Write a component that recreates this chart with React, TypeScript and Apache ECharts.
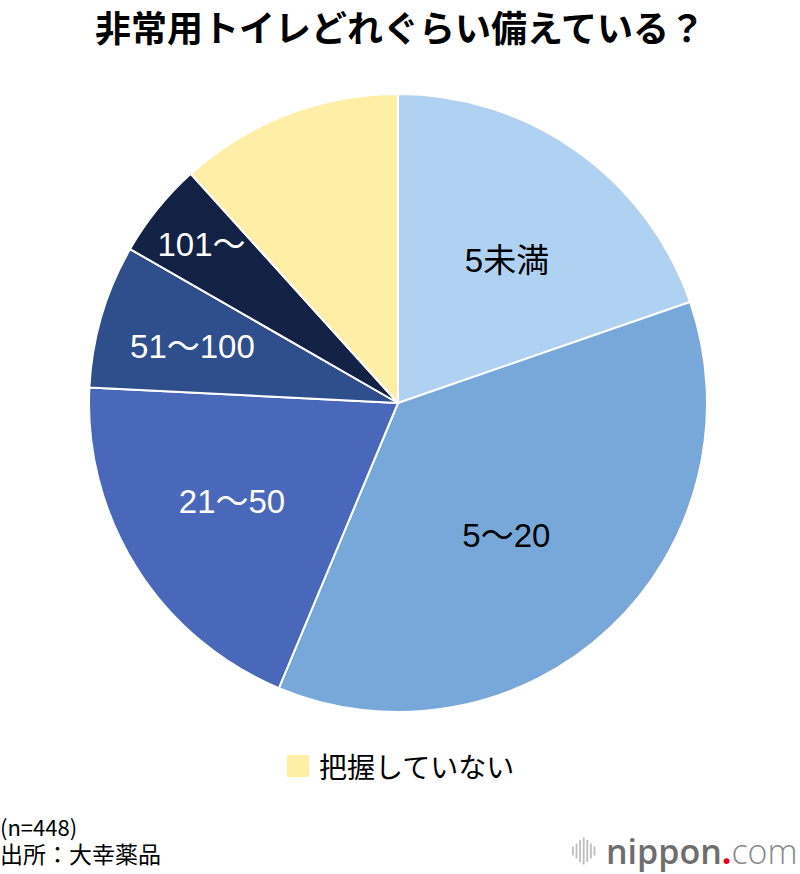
import React, { useEffect, useRef } from "react";
import * as echarts from "echarts";

const categories = ["5未満", "5〜20", "21〜50", "51〜100", "101〜", "把握していない"];
const shares = [19.7, 36.6, 19.5, 7.5, 5.0, 11.7];
const sliceColors = ["#AFD1F2", "#77A8D9", "#4A68BA", "#2F4F8C", "#132144", "#FFEEA5"];
const labelColors = ["#000", "#000", "#fff", "#fff", "#fff", "transparent"];
const labelRadiusFrac = [0.58, 0.555, 0.625, 0.69, 0.817, 0.6];
const labelAngleShiftDeg = [2, 4, 1.5, -1, 0, 0];
const legendItems = ["把握していない"];

const CX = 398;
const CY = 403;
const R = 309;

export default function App() {
  const ref = useRef<HTMLDivElement>(null);
  useEffect(() => {
    if (!ref.current) return;
    const chart = echarts.init(ref.current, null, { renderer: "svg" });
    const total = shares.reduce((a, b) => a + b, 0);
    const mids: number[] = [];
    let cum = 0;
    shares.forEach((v, i) => {
      mids.push(((cum + v / 2) / total) * 2 * Math.PI + (labelAngleShiftDeg[i] * Math.PI) / 180);
      cum += v;
    });
    const bars = [9, 15, 22, 27, 22, 15, 9];
    chart.setOption({
      animation: false,
      backgroundColor: "#fff",
      title: {
        text: "非常用トイレどれぐらい備えている？",
        left: "center",
        top: 3,
        textStyle: {
          fontSize: 36,
          fontWeight: "bold",
          color: "#000",
          fontFamily: "Noto Sans CJK JP",
        },
      },
      legend: {
        data: legendItems,
        left: "center",
        top: 747,
        itemWidth: 24,
        itemHeight: 24,
        itemGap: 10,
        icon: "rect",
        textStyle: { fontSize: 28, color: "#000", fontFamily: "Noto Sans CJK JP", padding: [0, 0, 0, 4] },
      },
      series: [
        {
          type: "pie",
          center: [CX, CY],
          radius: R,
          startAngle: 90,
          clockwise: true,
          avoidLabelOverlap: false,
          itemStyle: { borderColor: "#fff", borderWidth: 2 },
          label: {
            show: true,
            position: "inside",
            fontSize: 33,
            fontFamily: "Liberation Sans, Noto Sans CJK JP",
            formatter: (p: any) => (p.dataIndex === 5 ? "" : p.name),
          },
          labelLine: { show: false },
          emphasis: { disabled: true },
          labelLayout: (p: any) => {
            const i = p.dataIndex;
            const a = mids[i];
            const r = R * labelRadiusFrac[i];
            return {
              x: CX + r * Math.sin(a),
              y: CY - r * Math.cos(a),
              align: "center",
              verticalAlign: "middle",
            };
          },
          data: categories.map((c, i) => ({
            name: c,
            value: shares[i],
            itemStyle: { color: sliceColors[i] },
            label: { color: labelColors[i] },
          })),
        },
      ],
      graphic: [
        {
          type: "text",
          left: 0,
          top: 815,
          style: { text: "(n=448)", fontSize: 22, lineHeight: 22, fill: "#000", fontFamily: "Noto Sans CJK JP" },
        },
        {
          type: "text",
          left: 0,
          top: 841,
          style: { text: "出所：大幸薬品", fontSize: 23, lineHeight: 23, fill: "#000", fontFamily: "Noto Sans CJK JP" },
        },
        ...bars.map((h, i) => ({
          type: "rect",
          shape: { x: 572 + i * 3.6, y: 851 - h / 2, width: 1.8, height: h },
          style: { fill: "#bdbdbd" },
        })),
        {
          type: "text",
          x: 606,
          y: 851,
          style: {
            text: "{a|nippon}{b|.}{c|com}",
            verticalAlign: "middle",
            rich: {
              a: { fontSize: 34, fontWeight: 600, fill: "#6e6e6e", fontFamily: "Open Sans" },
              b: { fontSize: 34, fontWeight: 700, fill: "#e60012", fontFamily: "Open Sans" },
              c: { fontSize: 34, fontWeight: 300, fill: "#8a8a8a", fontFamily: "Open Sans" },
            },
          },
        },
      ],
    });
    return () => chart.dispose();
  }, []);
  return (
    <div
      ref={ref}
      style={{ position: "fixed", left: 0, top: 0, width: 800, height: 874 }}
    />
  );
}
